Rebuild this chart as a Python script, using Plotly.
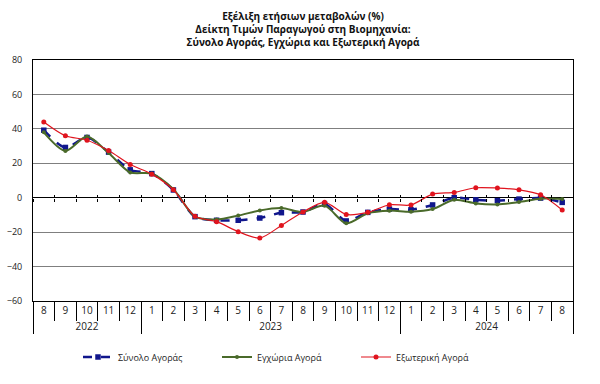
import plotly.graph_objects as go

years = ["2022"] * 5 + ["2023"] * 12 + ["2024"] * 8
months = ["8", "9", "10", "11", "12",
          "1", "2", "3", "4", "5", "6", "7", "8", "9", "10", "11", "12",
          "1", "2", "3", "4", "5", "6", "7", "8"]

total_market = [39.2, 29.2, 35.0, 26.5, 16.2, 14.0, 4.5, -11.0, -13.1, -13.1, -11.8, -8.7, -8.3,
                -3.7, -13.5, -8.5, -6.6, -7.0, -4.2, 0.0, -1.2, -1.7, -0.8, -0.2, -2.7]
domestic_market = [38.0, 27.2, 35.5, 26.0, 14.7, 14.0, 5.0, -11.0, -12.7, -10.4, -7.4, -6.0, -8.3,
                   -4.6, -14.9, -9.0, -7.5, -8.1, -6.6, -1.2, -3.3, -3.9, -2.5, -0.6, -0.8]
external_market = [44.0, 36.0, 33.4, 27.4, 19.3, 13.7, 4.6, -10.8, -13.9, -19.7, -23.4, -16.1, -8.3,
                   -2.7, -9.7, -8.5, -4.1, -4.2, 2.1, 3.1, 5.8, 5.6, 4.6, 1.7, -7.1]

series_names = ["Σύνολο Αγοράς", "Εγχώρια Αγορά", "Εξωτερική Αγορά"]

FONT = "Open Sans"

# make month labels unique per year (invisible zero-width suffix) so that
# the multicategory axis keeps chronological order
year_index = {"2022": 0, "2023": 1, "2024": 2}
month_keys = [m + "\u200b" * year_index[y] for y, m in zip(years, months)]
x = [years, month_keys]

fig = go.Figure()
fig.add_trace(go.Scatter(
    x=x, y=total_market, name=series_names[0], mode="lines+markers",
    line=dict(color="#10168C", width=2.5, dash="dash", shape="spline", smoothing=0.8),
    marker=dict(symbol="square", size=5.5, color="#10168C")))
fig.add_trace(go.Scatter(
    x=x, y=domestic_market, name=series_names[1], mode="lines+markers",
    line=dict(color="#4A6A2A", width=2, shape="spline", smoothing=0.8),
    marker=dict(symbol="circle", size=4, color="#4A6A2A")))
fig.add_trace(go.Scatter(
    x=x, y=external_market, name=series_names[2], mode="lines+markers",
    line=dict(color="#E0141E", width=1.2, shape="spline", smoothing=0.8),
    marker=dict(symbol="circle", size=5, color="#E0141E")))

# invisible helper traces so the zero-line tick axes render
for ax in ["x2", "x3"]:
    fig.add_trace(go.Scatter(x=[0], y=[None], xaxis=ax, showlegend=False, hoverinfo="skip"))

n = len(months)
boundaries = [i - 0.5 for i in range(n + 1)]
zero_frac = 60 / 140

fig.update_layout(
    width=600, height=384,
    margin=dict(l=33, r=27, t=60, b=83, autoexpand=False),
    paper_bgcolor="white", plot_bgcolor="white",
    font=dict(family=FONT, size=9, color="#222222"),
    title=dict(
        text="<b>Εξέλιξη ετήσιων μεταβολών (%)<br>Δείκτη Τιμών Παραγωγού στη Βιομηχανία:<br>Σύνολο Αγοράς, Εγχώρια και Εξωτερική Αγορά</b>",
        x=0.505, xanchor="center", y=0.949, yanchor="top",
        font=dict(family=FONT, size=10, color="#111111")),
    yaxis=dict(range=[-60, 80], tickvals=[-60, -40, -20, 0, 20, 40, 60, 80],
               showgrid=True, gridcolor="#7F7F7F", gridwidth=1,
               zeroline=True, zerolinecolor="#000000", zerolinewidth=1,
               showline=True, linecolor="#000000", linewidth=1, mirror=True,
               ticks="", tickfont=dict(size=9), ticklabelstandoff=8, fixedrange=True),
    xaxis=dict(type="multicategory", range=[-0.5, n - 0.5],
               showline=True, linecolor="#000000", linewidth=1,
               mirror=True, ticks="outside", tickson="boundaries", ticklen=19,
               tickcolor="#000000", showdividers=True, dividercolor="#000000",
               dividerwidth=1, tickfont=dict(size=10),
               showgrid=False, fixedrange=True),
    xaxis2=dict(overlaying="x", anchor="free", position=zero_frac, range=[-0.5, n - 0.5],
                tickvals=boundaries, ticks="outside", ticklen=3, tickcolor="#000000",
                showticklabels=False, showgrid=False, zeroline=False, showline=False),
    xaxis3=dict(overlaying="x", anchor="free", position=zero_frac, range=[-0.5, n - 0.5],
                tickvals=boundaries, ticks="inside", ticklen=3, tickcolor="#000000",
                showticklabels=False, showgrid=False, zeroline=False, showline=False),
    legend=dict(orientation="h", x=(78 - 33) / 540, xanchor="left",
                y=-(357 - 301) / 241, yanchor="middle",
                font=dict(size=9), itemwidth=30, tracegroupgap=0,
                entrywidth=94, entrywidthmode="pixels"),
    showlegend=True,
)

fig.write_html("out.html", config={"displayModeBar": False},
               post_script="document.body.style.margin='0';")
